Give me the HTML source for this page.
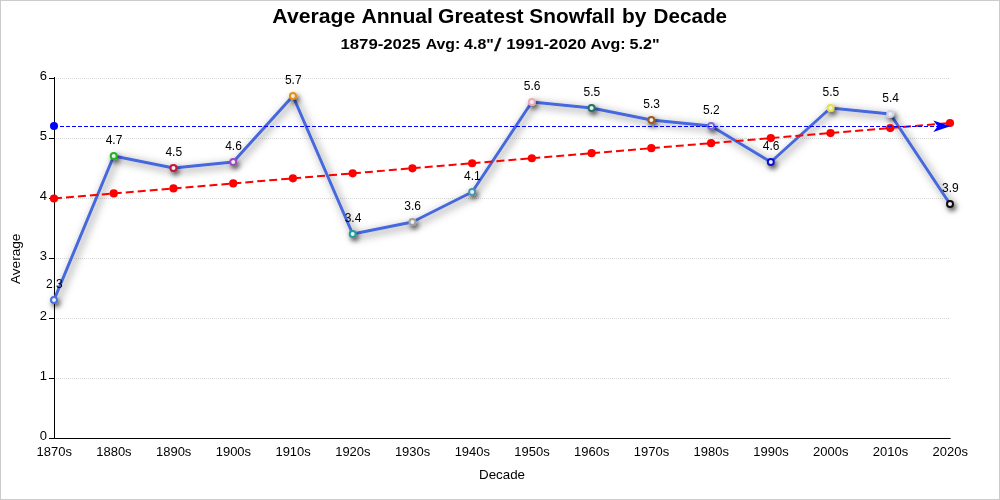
<!DOCTYPE html>
<html><head><meta charset="utf-8"><title>Average Annual Greatest Snowfall by Decade</title>
<style>
html,body{margin:0;padding:0;background:#fff;}
body{width:1000px;height:500px;position:relative;overflow:hidden;font-family:"Liberation Sans",sans-serif;}
.frame{position:absolute;left:0;top:0;width:998px;height:498px;border:1px solid #ccc;}
text{font-family:"Liberation Sans",sans-serif;fill:#000;}
.ax{font-size:13px;}
.dl{font-size:12px;}
.t1{font-size:20px;font-weight:bold;}
.t2{font-size:15px;font-weight:bold;}
.t3{font-size:18px;font-weight:normal;stroke:#000;stroke-width:0.35px;}
</style></head><body>
<div class="frame"></div>
<svg width="1000" height="500" viewBox="0 0 1000 500" style="position:absolute;left:0;top:0">
<defs>
<filter id="shl" x="-5%" y="-12%" width="110%" height="130%"><feDropShadow dx="2.5" dy="2.5" stdDeviation="4.2" flood-color="#000" flood-opacity="0.55"/></filter>
<filter id="shm" x="-100%" y="-100%" width="400%" height="400%"><feDropShadow dx="2" dy="3" stdDeviation="2.8" flood-color="#000" flood-opacity="0.65"/></filter>
</defs>
<line x1="56" x2="950" y1="378.5" y2="378.5" stroke="#d6d6d6" stroke-width="1" stroke-dasharray="1 1"/>
<line x1="56" x2="950" y1="318.5" y2="318.5" stroke="#d6d6d6" stroke-width="1" stroke-dasharray="1 1"/>
<line x1="56" x2="950" y1="258.5" y2="258.5" stroke="#d6d6d6" stroke-width="1" stroke-dasharray="1 1"/>
<line x1="56" x2="950" y1="198.5" y2="198.5" stroke="#d6d6d6" stroke-width="1" stroke-dasharray="1 1"/>
<line x1="56" x2="950" y1="138.5" y2="138.5" stroke="#d6d6d6" stroke-width="1" stroke-dasharray="1 1"/>
<line x1="56" x2="950" y1="78.5" y2="78.5" stroke="#d6d6d6" stroke-width="1" stroke-dasharray="1 1"/>
<line x1="54.5" x2="54.5" y1="77" y2="439" stroke="#000" stroke-width="1"/>
<line x1="54" x2="950.6" y1="438.5" y2="438.5" stroke="#000" stroke-width="1"/>
<line x1="49" x2="55" y1="438.5" y2="438.5" stroke="#000" stroke-width="1"/>
<text x="47" y="439.5" text-anchor="end" class="ax">0</text>
<line x1="49" x2="55" y1="378.5" y2="378.5" stroke="#000" stroke-width="1"/>
<text x="47" y="379.5" text-anchor="end" class="ax">1</text>
<line x1="49" x2="55" y1="318.5" y2="318.5" stroke="#000" stroke-width="1"/>
<text x="47" y="319.5" text-anchor="end" class="ax">2</text>
<line x1="49" x2="55" y1="258.5" y2="258.5" stroke="#000" stroke-width="1"/>
<text x="47" y="259.5" text-anchor="end" class="ax">3</text>
<line x1="49" x2="55" y1="198.5" y2="198.5" stroke="#000" stroke-width="1"/>
<text x="47" y="199.5" text-anchor="end" class="ax">4</text>
<line x1="49" x2="55" y1="138.5" y2="138.5" stroke="#000" stroke-width="1"/>
<text x="47" y="139.5" text-anchor="end" class="ax">5</text>
<line x1="49" x2="55" y1="78.5" y2="78.5" stroke="#000" stroke-width="1"/>
<text x="47" y="79.5" text-anchor="end" class="ax">6</text>
<text x="36.50" y="456" textLength="35.4" lengthAdjust="spacingAndGlyphs" class="ax">1870s</text>
<text x="96.23" y="456" textLength="35.4" lengthAdjust="spacingAndGlyphs" class="ax">1880s</text>
<text x="155.97" y="456" textLength="35.4" lengthAdjust="spacingAndGlyphs" class="ax">1890s</text>
<text x="215.70" y="456" textLength="35.4" lengthAdjust="spacingAndGlyphs" class="ax">1900s</text>
<text x="275.43" y="456" textLength="35.4" lengthAdjust="spacingAndGlyphs" class="ax">1910s</text>
<text x="335.17" y="456" textLength="35.4" lengthAdjust="spacingAndGlyphs" class="ax">1920s</text>
<text x="394.90" y="456" textLength="35.4" lengthAdjust="spacingAndGlyphs" class="ax">1930s</text>
<text x="454.63" y="456" textLength="35.4" lengthAdjust="spacingAndGlyphs" class="ax">1940s</text>
<text x="514.37" y="456" textLength="35.4" lengthAdjust="spacingAndGlyphs" class="ax">1950s</text>
<text x="574.10" y="456" textLength="35.4" lengthAdjust="spacingAndGlyphs" class="ax">1960s</text>
<text x="633.83" y="456" textLength="35.4" lengthAdjust="spacingAndGlyphs" class="ax">1970s</text>
<text x="693.57" y="456" textLength="35.4" lengthAdjust="spacingAndGlyphs" class="ax">1980s</text>
<text x="753.30" y="456" textLength="35.4" lengthAdjust="spacingAndGlyphs" class="ax">1990s</text>
<text x="813.03" y="456" textLength="35.4" lengthAdjust="spacingAndGlyphs" class="ax">2000s</text>
<text x="872.77" y="456" textLength="35.4" lengthAdjust="spacingAndGlyphs" class="ax">2010s</text>
<text x="932.50" y="456" textLength="35.4" lengthAdjust="spacingAndGlyphs" class="ax">2020s</text>
<polyline filter="url(#shl)" points="54.00,300.00 113.73,156.00 173.47,168.00 233.20,162.00 292.93,96.00 352.67,234.00 412.40,222.00 472.13,192.00 531.87,102.00 591.60,108.00 651.33,120.00 711.07,126.00 770.80,162.00 830.53,108.00 890.27,114.00 950.00,204.00" fill="none" stroke="#4668dc" stroke-width="3" stroke-linejoin="round" stroke-linecap="round"/>
<circle filter="url(#shm)" cx="54.00" cy="300.00" r="3" fill="#eceef0" stroke="#4a6fe0" stroke-width="2"/>
<circle filter="url(#shm)" cx="113.73" cy="156.00" r="3" fill="#eceef0" stroke="#22b422" stroke-width="2"/>
<circle filter="url(#shm)" cx="173.47" cy="168.00" r="3" fill="#eceef0" stroke="#c4143c" stroke-width="2"/>
<circle filter="url(#shm)" cx="233.20" cy="162.00" r="3" fill="#eceef0" stroke="#a048be" stroke-width="2"/>
<circle filter="url(#shm)" cx="292.93" cy="96.00" r="3" fill="#eceef0" stroke="#e8900c" stroke-width="2"/>
<circle filter="url(#shm)" cx="352.67" cy="234.00" r="3" fill="#eceef0" stroke="#1ea096" stroke-width="2"/>
<circle filter="url(#shm)" cx="412.40" cy="222.00" r="3" fill="#eceef0" stroke="#a0a0a0" stroke-width="2"/>
<circle filter="url(#shm)" cx="472.13" cy="192.00" r="3" fill="#eceef0" stroke="#4696af" stroke-width="2"/>
<circle filter="url(#shm)" cx="531.87" cy="102.00" r="3" fill="#eceef0" stroke="#f0a8b8" stroke-width="2"/>
<circle filter="url(#shm)" cx="591.60" cy="108.00" r="3" fill="#eceef0" stroke="#227264" stroke-width="2"/>
<circle filter="url(#shm)" cx="651.33" cy="120.00" r="3" fill="#eceef0" stroke="#9a5a26" stroke-width="2"/>
<circle filter="url(#shm)" cx="711.07" cy="126.00" r="3" fill="#eceef0" stroke="#7b68d8" stroke-width="2"/>
<circle filter="url(#shm)" cx="770.80" cy="162.00" r="3" fill="#eceef0" stroke="#1010d0" stroke-width="2"/>
<circle filter="url(#shm)" cx="830.53" cy="108.00" r="3" fill="#eceef0" stroke="#e6e048" stroke-width="2"/>
<circle filter="url(#shm)" cx="890.27" cy="114.00" r="3" fill="#eceef0" stroke="#d0d0ea" stroke-width="2"/>
<circle filter="url(#shm)" cx="950.00" cy="204.00" r="3" fill="#eceef0" stroke="#101010" stroke-width="2"/>
<line x1="54.0" x2="950.0" y1="198.5" y2="123.0" stroke="#ff0000" stroke-width="2" stroke-dasharray="8 4"/>
<circle cx="54.00" cy="198.50" r="4.1" fill="#ff0000"/>
<circle cx="113.73" cy="193.47" r="4.1" fill="#ff0000"/>
<circle cx="173.47" cy="188.43" r="4.1" fill="#ff0000"/>
<circle cx="233.20" cy="183.40" r="4.1" fill="#ff0000"/>
<circle cx="292.93" cy="178.37" r="4.1" fill="#ff0000"/>
<circle cx="352.67" cy="173.33" r="4.1" fill="#ff0000"/>
<circle cx="412.40" cy="168.30" r="4.1" fill="#ff0000"/>
<circle cx="472.13" cy="163.27" r="4.1" fill="#ff0000"/>
<circle cx="531.87" cy="158.23" r="4.1" fill="#ff0000"/>
<circle cx="591.60" cy="153.20" r="4.1" fill="#ff0000"/>
<circle cx="651.33" cy="148.17" r="4.1" fill="#ff0000"/>
<circle cx="711.07" cy="143.13" r="4.1" fill="#ff0000"/>
<circle cx="770.80" cy="138.10" r="4.1" fill="#ff0000"/>
<circle cx="830.53" cy="133.07" r="4.1" fill="#ff0000"/>
<circle cx="890.27" cy="128.03" r="4.1" fill="#ff0000"/>
<circle cx="950.00" cy="123.00" r="4.1" fill="#ff0000"/>
<line x1="54.0" x2="940" y1="126.5" y2="126.5" stroke="#0000ff" stroke-width="1" stroke-dasharray="4 2"/>
<circle cx="54.0" cy="126.0" r="4" fill="#0000ff"/>
<path d="M950.4 126.2 L933.3 120.5 L937.7 126.2 L933.3 131.9 Z" fill="#0000ff"/>
<text x="54.30" y="288.00" text-anchor="middle" class="dl">2.3</text>
<text x="114.03" y="144.00" text-anchor="middle" class="dl">4.7</text>
<text x="173.77" y="156.00" text-anchor="middle" class="dl">4.5</text>
<text x="233.50" y="150.00" text-anchor="middle" class="dl">4.6</text>
<text x="293.23" y="84.00" text-anchor="middle" class="dl">5.7</text>
<text x="352.97" y="222.00" text-anchor="middle" class="dl">3.4</text>
<text x="412.70" y="210.00" text-anchor="middle" class="dl">3.6</text>
<text x="472.43" y="180.00" text-anchor="middle" class="dl">4.1</text>
<text x="532.17" y="90.00" text-anchor="middle" class="dl">5.6</text>
<text x="591.90" y="96.00" text-anchor="middle" class="dl">5.5</text>
<text x="651.63" y="108.00" text-anchor="middle" class="dl">5.3</text>
<text x="711.37" y="114.00" text-anchor="middle" class="dl">5.2</text>
<text x="771.10" y="150.00" text-anchor="middle" class="dl">4.6</text>
<text x="830.83" y="96.00" text-anchor="middle" class="dl">5.5</text>
<text x="890.57" y="102.00" text-anchor="middle" class="dl">5.4</text>
<text x="950.30" y="192.00" text-anchor="middle" class="dl">3.9</text>
<text x="479" y="479" textLength="46" lengthAdjust="spacingAndGlyphs" class="ax">Decade</text>
<text transform="translate(20.3,284) rotate(-90)" textLength="50.4" lengthAdjust="spacingAndGlyphs" class="ax">Average</text>
<text x="272.38" y="22.7" textLength="83.01" lengthAdjust="spacingAndGlyphs" class="t1">Average</text>
<text x="361.48" y="22.7" textLength="71.49" lengthAdjust="spacingAndGlyphs" class="t1">Annual</text>
<text x="437.96" y="22.7" textLength="85.71" lengthAdjust="spacingAndGlyphs" class="t1">Greatest</text>
<text x="529.38" y="22.7" textLength="85.6" lengthAdjust="spacingAndGlyphs" class="t1">Snowfall</text>
<text x="622.05" y="22.7" textLength="24.42" lengthAdjust="spacingAndGlyphs" class="t1">by</text>
<text x="653.57" y="22.7" textLength="73.45" lengthAdjust="spacingAndGlyphs" class="t1">Decade</text>
<text x="340.45" y="48.5" textLength="80.15" lengthAdjust="spacingAndGlyphs" class="t2">1879-2025</text>
<text x="425.7" y="48.5" textLength="34.57" lengthAdjust="spacingAndGlyphs" class="t2">Avg:</text>
<text x="464.1" y="48.5" textLength="29.73" lengthAdjust="spacingAndGlyphs" class="t2">4.8&quot;</text>
<text x="494.2" y="50.8" textLength="7.02" lengthAdjust="spacingAndGlyphs" class="t3">/</text>
<text x="506.25" y="48.5" textLength="80.16" lengthAdjust="spacingAndGlyphs" class="t2">1991-2020</text>
<text x="590.59" y="48.5" textLength="35.0" lengthAdjust="spacingAndGlyphs" class="t2">Avg:</text>
<text x="629.57" y="48.5" textLength="30.08" lengthAdjust="spacingAndGlyphs" class="t2">5.2&quot;</text>
</svg>
</body></html>
